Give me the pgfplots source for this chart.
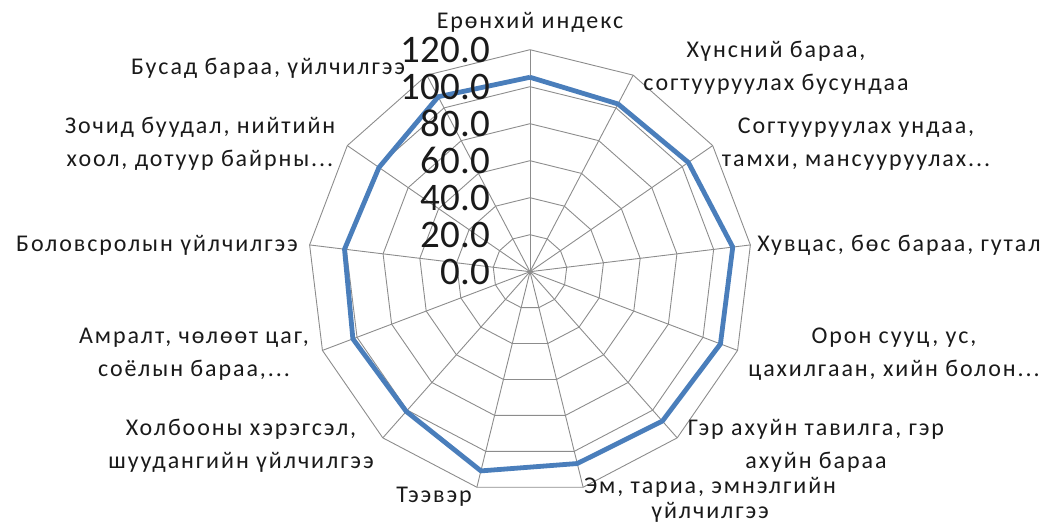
\documentclass[border=0pt]{standalone}
\usepackage{pgfplots}
\pgfplotsset{compat=1.18}
\usepgfplotslibrary{polar}
\usetikzlibrary{calc}
\usepackage{fontspec}
\setmainfont{Carlito}
\newfontfamily\lab[LetterSpace=8]{Carlito}
\definecolor{series}{HTML}{4A7EBB}
\definecolor{gridc}{HTML}{8C8C8C}
\definecolor{txt}{HTML}{1A1A1A}

\begin{document}
\begin{tikzpicture}
\begin{polaraxis}[
    hide axis,
    width=444pt, height=444pt,
    scale only axis,
    ymin=0, ymax=120,
    clip=false,
]
  % spokes
  \pgfplotsinvokeforeach{90,62.308,34.615,6.923,339.231,311.538,283.846,256.154,228.462,200.769,173.077,145.385,117.692}{
    \addplot[gridc, line width=0.9pt] coordinates {(#1,0) (#1,120)};
  }
  % polygon rings
  \pgfplotsinvokeforeach{20,40,60,80,100,120}{
    \addplot[gridc, line width=0.9pt] coordinates {
      (90,#1) (62.308,#1) (34.615,#1) (6.923,#1) (339.231,#1) (311.538,#1)
      (283.846,#1) (256.154,#1) (228.462,#1) (200.769,#1) (173.077,#1)
      (145.385,#1) (117.692,#1) (90,#1)};
  }
  % series
  \addplot[series, line width=4.8pt, line join=round] coordinates {
    (90,105.1) (62.308,102.4) (34.615,104.0) (6.923,110.4) (339.231,110.1)
    (311.538,107.9) (283.846,106.8) (256.154,110.9) (228.462,100.9)
    (200.769,102.4) (173.077,101.0) (145.385,99.2) (117.692,106.8) (90,105.1)};
  % radial tick labels
  \pgfplotsinvokeforeach{0,20,40,60,80,100,120}{
    \node[anchor=east, xshift=-40pt, font=\fontsize{39}{42}\selectfont, text=txt, inner sep=0pt]
      at (axis cs:90,#1) {#1.0};
  }
  \coordinate (c) at (axis cs:0,0);
\end{polaraxis}
\begin{scope}[every node/.style={font=\lab\fontsize{24}{33}\selectfont, text=txt, align=center, inner sep=0pt}]
  \node at ($(c)+(0pt,249.7pt)$) {Ерөнхий индекс};
  \node at ($(c)+(246pt,203.7pt)$) {Хүнсний бараа,\\согтууруулах бусундаа};
  \node at ($(c)+(326pt,127.7pt)$) {Согтууруулах ундаа,\\тамхи, мансууруулах...};
  \node at ($(c)+(369pt,26.7pt)$) {Хувцас, бөс бараа, гутал};
  \node at ($(c)+(364pt,-82.3pt)$) {Орон сууц, ус,\\цахилгаан, хийн болон...};
  \node at ($(c)+(286pt,-174.3pt)$) {Гэр ахуйн тавилга, гэр\\ахуйн бараа};
  \node[font=\lab\fontsize{24}{25}\selectfont] at ($(c)+(180pt,-228pt)$) {Эм, тариа, эмнэлгийн\\үйлчилгээ};
  \node at ($(c)+(-96pt,-225.3pt)$) {Тээвэр};
  \node at ($(c)+(-289pt,-174.3pt)$) {Холбооны хэрэгсэл,\\шуудангийн үйлчилгээ};
  \node at ($(c)+(-336pt,-82.3pt)$) {Амралт, чөлөөт цаг,\\соёлын бараа,...};
  \node at ($(c)+(-373pt,26.7pt)$) {Боловсролын үйлчилгээ};
  \node at ($(c)+(-330pt,127.7pt)$) {Зочид буудал, нийтийн\\хоол, дотуур байрны...};
  \node at ($(c)+(-262pt,203.7pt)$) {Бусад бараа, үйлчилгээ};
\end{scope}
\pgfresetboundingbox
\path[use as bounding box] ($(c)+(-530pt,-252.3pt)$) rectangle ($(c)+(518pt,271.7pt)$);
\end{tikzpicture}
\end{document}
